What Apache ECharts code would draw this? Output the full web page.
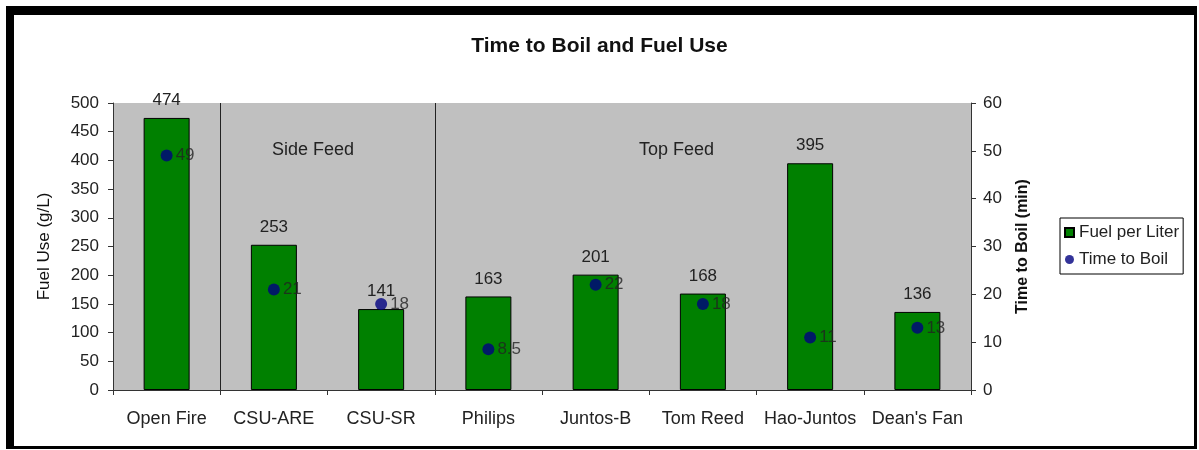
<!DOCTYPE html>
<html>
<head>
<meta charset="utf-8">
<script src="https://cdn.jsdelivr.net/npm/echarts@6/dist/echarts.min.js"></script>
<style>
html,body{margin:0;padding:0;background:#fff;}
#chart{width:1199px;height:450px;}
</style>
</head>
<body>
<div id="chart"></div>
<script>
const categories = ['Open Fire', 'CSU-ARE', 'CSU-SR', 'Philips', 'Juntos-B', 'Tom Reed', 'Hao-Juntos', "Dean's Fan"];
const fuelPerLiter = [474, 253, 141, 163, 201, 168, 395, 136];
const timeToBoil = [49, 21, 18, 8.5, 22, 18, 11, 13];
const fuelAxis = { min: 0, max: 500, interval: 50 };
const timeAxis = { min: 0, max: 60, interval: 10 };
const groupLabels = ['Side Feed', 'Top Feed'];
const groupBoundaries = [1, 3];

const FONT = "'Liberation Sans', Arial, sans-serif";
const chart = echarts.init(document.getElementById('chart'));

chart.setOption({
  backgroundColor: '#ffffff',
  animation: false,
  textStyle: { fontFamily: FONT, color: '#222' },
  title: {
    text: 'Time to Boil and Fuel Use',
    left: 'center',
    top: 31,
    textStyle: { fontFamily: FONT, fontSize: 21, fontWeight: 'bold', color: '#111' }
  },
  graphic: [
    { type: 'rect', z: -10, silent: true, shape: { x: 6, y: 6, width: 1191, height: 443 }, style: { fill: '#000' } },
    { type: 'rect', z: -9, silent: true, shape: { x: 14, y: 15, width: 1180, height: 431 }, style: { fill: '#fff' } },
    { type: 'text', z: 5, left: 316 - 44, top: 141, style: { text: groupLabels[0], font: '18px ' + FONT, fill: '#222' } },
    { type: 'text', z: 5, left: 676 - 37, top: 141, style: { text: groupLabels[1], font: '18px ' + FONT, fill: '#222' } }
  ],
  legend: {
    orient: 'vertical',
    left: 1060,
    top: 218,
    itemGap: 10,
    padding: [6, 4, 6, 4],
    borderColor: '#000',
    borderWidth: 1,
    backgroundColor: '#fff',
    itemWidth: 9,
    itemHeight: 9,
    textStyle: { fontFamily: FONT, fontSize: 17, color: '#222' },
    data: [
      { name: 'Fuel per Liter', icon: 'rect' },
      { name: 'Time to Boil', icon: 'circle' }
    ]
  },
  grid: {
    left: 113,
    right: 228,
    top: 103,
    bottom: 60,
    show: true,
    backgroundColor: '#C0C0C0',
    borderWidth: 0
  },
  xAxis: {
    type: 'category',
    data: categories,
    boundaryGap: true,
    axisLine: { lineStyle: { color: '#333', width: 1 } },
    axisTick: { show: true, interval: 0, length: 5, lineStyle: { color: '#333' } },
    axisLabel: { interval: 0, margin: 20, fontFamily: FONT, fontSize: 18, color: '#222' },
    splitLine: {
      show: true,
      interval: function (index) { return groupBoundaries.indexOf(index) >= 0; },
      lineStyle: { color: '#222', width: 1 }
    }
  },
  yAxis: [
    {
      type: 'value',
      min: fuelAxis.min, max: fuelAxis.max, interval: fuelAxis.interval,
      name: 'Fuel Use (g/L)',
      nameLocation: 'middle',
      nameGap: 60,
      nameRotate: 90,
      nameTextStyle: { fontFamily: FONT, fontSize: 17, color: '#111' },
      axisLine: { show: true, lineStyle: { color: '#333' } },
      axisTick: { show: true, length: 5, lineStyle: { color: '#333' } },
      axisLabel: { margin: 14, fontFamily: FONT, fontSize: 17, color: '#222' },
      splitLine: { show: false }
    },
    {
      type: 'value',
      position: 'right',
      min: timeAxis.min, max: timeAxis.max, interval: timeAxis.interval,
      name: 'Time to Boil (min)',
      nameLocation: 'middle',
      nameGap: 44,
      nameRotate: 90,
      nameTextStyle: { fontFamily: FONT, fontSize: 16, fontWeight: 'bold', color: '#111' },
      axisLine: { show: true, lineStyle: { color: '#333' } },
      axisTick: { show: true, length: 5, lineStyle: { color: '#333' } },
      axisLabel: { margin: 12, fontFamily: FONT, fontSize: 17, color: '#222' },
      splitLine: { show: false }
    }
  ],
  series: [
    {
      name: 'Fuel per Liter',
      type: 'bar',
      yAxisIndex: 0,
      data: fuelPerLiter,
      barWidth: 46,
      itemStyle: { color: '#008000', borderColor: '#000', borderWidth: 1 },
      label: { show: true, position: 'top', distance: 9, fontFamily: FONT, fontSize: 17, color: '#222' }
    },
    {
      name: 'Time to Boil',
      type: 'scatter',
      yAxisIndex: 1,
      data: timeToBoil,
      symbol: 'circle',
      symbolSize: 12,
      itemStyle: { color: '#000080' },
      label: { show: true, position: 'right', distance: 3, fontFamily: FONT, fontSize: 17, color: '#222' },
      z: 5
    }
  ]
});
</script>
</body>
</html>
